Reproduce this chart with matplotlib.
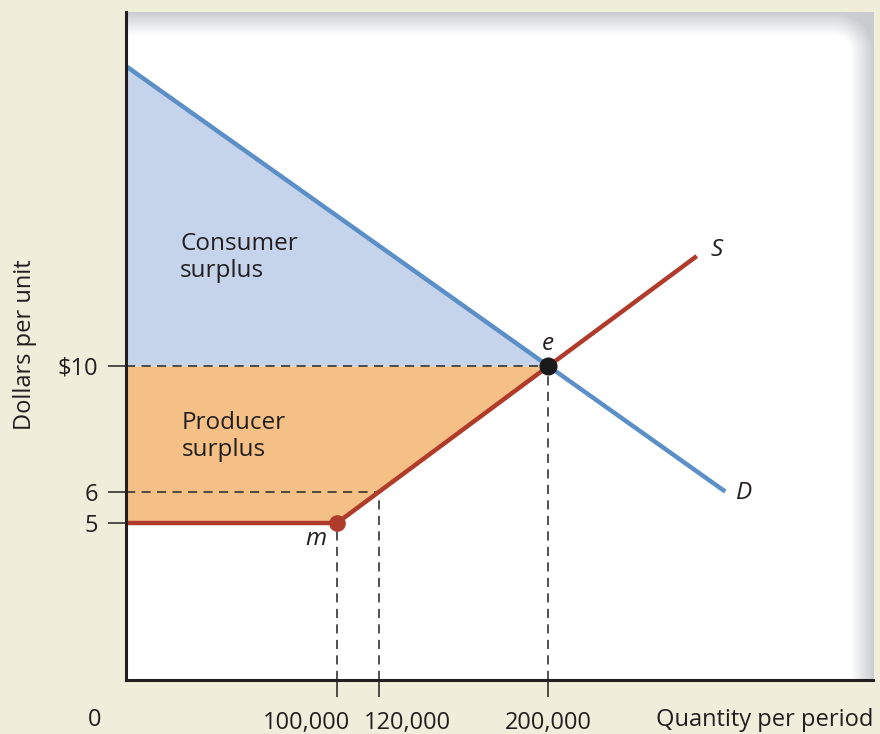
import numpy as np
import matplotlib
matplotlib.use('Agg')
import matplotlib.pyplot as plt
import matplotlib.colors as mcolors
from matplotlib.transforms import ScaledTranslation

plt.rcParams['font.family'] = ['Open Sans', 'DejaVu Sans']

# demand and supply curves (quantity, $ per unit)
demand_q = [0, 284000]
demand_p = [19.55, 6.0]
supply_q = [0, 100000, 270500]
supply_p = [5, 5, 13.5]

eq_q, eq_p = 200000, 10      # point e
min_q, min_p = 100000, 5     # point m
q_at_6 = 120000

xticks = [100000, 120000, 200000]
xticklabels = ['100,000', '120,000', '200,000']
yticks = [5, 6, 10]
yticklabels = ['5', '6', '$10']

bg = '#f1eddb'
blue = '#5b8fc7'
red = '#b03b2b'
cs_fill = '#c5d4ea'
ps_fill = '#f4c086'
dash_col = '#333333'
ink = '#231f20'

W, H = 880, 734
fig = plt.figure(figsize=(W / 100, H / 100), dpi=100, facecolor=bg)
ax_l, ax_r, ax_t, ax_b = 126, 873, 12, 680
ax = fig.add_axes([ax_l / W, 1 - ax_b / H, (ax_r - ax_l) / W, (ax_b - ax_t) / H])

# white plot panel with a soft grey rim on top and right
pw, ph = ax_r - ax_l, ax_b - ax_t
band, R = 23, 18
xx, yy = np.meshgrid(np.arange(pw) + 0.5, np.arange(ph) + 0.5)
cx, cy = pw - band - R, band + R
ddx = np.maximum(xx - cx, 0)
ddy = np.maximum(cy - yy, 0)
dist = np.clip((np.hypot(ddx, ddy) - R) / band, 0, 1)
grey = np.array(mcolors.to_rgb('#c9ccd1'))
img = np.ones((ph, pw, 3)) * (1 - dist[..., None]) + grey * dist[..., None]
ax.imshow(img, extent=[0, 1, 0, 1], transform=ax.transAxes, aspect='auto',
          zorder=0, interpolation='bilinear')

xmax = (ax_r - ax_l) / 2.11 * 1000
ymax = (ax_b - ax_t) / 31.4

# surplus areas
ax.fill_between([0, eq_q], [demand_p[0], eq_p], eq_p, color=cs_fill, lw=0, zorder=1)
ax.fill_between([0, min_q, eq_q], [eq_p] * 3, [min_p, min_p, eq_p], color=ps_fill, lw=0, zorder=1)

# guide lines
dstyle = dict(color=dash_col, lw=1.2, linestyle=(0, (5.5, 3.8)), zorder=2)
ax.plot([0, eq_q], [eq_p, eq_p], **dstyle)
ax.plot([0, q_at_6], [6, 6], **dstyle)
ax.plot([min_q, min_q], [0, min_p], **dstyle)
ax.plot([q_at_6, q_at_6], [0, 6], **dstyle)
ax.plot([eq_q, eq_q], [0, eq_p], **dstyle)

# curves
ax.plot(demand_q, demand_p, color=blue, lw=3.2, solid_capstyle='butt', zorder=3)
ax.plot(supply_q, supply_p, color=red, lw=3.2, solid_capstyle='butt', zorder=4)
ax.plot(eq_q, eq_p, 'o', color='#1a1a1a', ms=12, zorder=5)
ax.plot(min_q, min_p, 'o', color=red, ms=11, zorder=5)

fs = 17
fa = 17.5
ax.text(25600, 13.45, 'Consumer\nsurplus', fontsize=fa, color=ink, va='center',
        linespacing=1.2, zorder=6)
ax.text(26500, 7.75, 'Producer\nsurplus', fontsize=fa, color=ink, va='center',
        linespacing=1.2, zorder=6)
ax.text(eq_q, 10.7, 'e', fontsize=fa, style='italic', color=ink, ha='center', va='center', zorder=6)
ax.text(90000, 4.5, 'm', fontsize=fa, style='italic', color=ink, ha='center', va='center', zorder=6)
ax.text(280000, 13.7, 'S', fontsize=fa, style='italic', color=ink, ha='center', va='center', zorder=6)
ax.text(293000, 5.95, 'D', fontsize=fa, style='italic', color=ink, ha='center', va='center', zorder=6)

ax.set_xlim(0, xmax)
ax.set_ylim(0, ymax)
for side in ['top', 'right']:
    ax.spines[side].set_visible(False)
for side in ['left', 'bottom']:
    ax.spines[side].set_color(ink)
    ax.spines[side].set_linewidth(2.2)
    ax.spines[side].set_zorder(7)

ax.set_xticks(xticks)
ax.set_xticklabels(xticklabels)
ax.set_yticks(yticks)
ax.set_yticklabels(yticklabels)
ax.tick_params(axis='y', length=13, width=1.1, color=ink, pad=7, labelsize=fs, labelcolor=ink)
ax.tick_params(axis='x', length=12, width=1.1, color=ink, pad=10, labelsize=fs, labelcolor=ink)

# nudge the two crowded quantity labels apart
for lab, off in zip(ax.get_xticklabels(), [-31, 28, 0]):
    lab.set_transform(lab.get_transform() + ScaledTranslation(off / 100, 0, fig.dpi_scale_trans))

fig.text(95 / W, 1 - 720 / H, '0', fontsize=fs, color=ink, ha='center', va='center')
fig.text(873 / W, 1 - 720 / H, 'Quantity per period', fontsize=fs, color=ink, ha='right', va='center')
fig.text(25 / W, 1 - 345 / H, 'Dollars per unit', fontsize=fs, color=ink, ha='center', va='center',
         rotation=90)

fig.savefig('out.png', dpi=100, facecolor=bg)
